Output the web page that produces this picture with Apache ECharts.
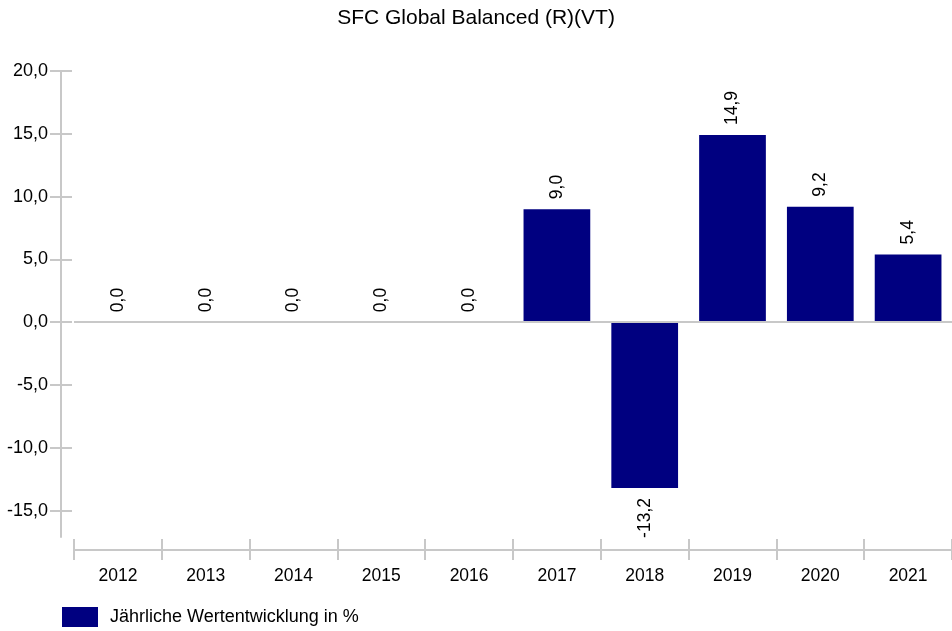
<!DOCTYPE html>
<html>
<head>
<meta charset="utf-8">
<script src="https://cdn.jsdelivr.net/npm/echarts@6/dist/echarts.min.js"></script>
<style>
  html, body { margin: 0; padding: 0; background: #fff; }
  #chart { width: 952px; height: 631px; }
</style>
</head>
<body>
<div id="chart"></div>
<script>
const years = ['2012', '2013', '2014', '2015', '2016', '2017', '2018', '2019', '2020', '2021'];
const returns = [0.0, 0.0, 0.0, 0.0, 0.0, 9.0, -13.2, 14.9, 9.2, 5.4];
const yTicks = [-15, -10, -5, 0, 5, 10, 15, 20];
const seriesName = 'Jährliche Wertentwicklung in %';

const FONT = 'Liberation Sans, Arial, sans-serif';
const GRAY = '#c8c8c8';
const fmt = v => v.toFixed(1).replace('.', ',');

const chart = echarts.init(document.getElementById('chart'));

const option = {
  animation: false,
  textStyle: { fontFamily: FONT },
  title: {
    text: 'SFC Global Balanced (R)(VT)',
    left: 'center',
    top: 3,
    textStyle: { fontFamily: FONT, fontSize: 21, fontWeight: 'normal', color: '#000' }
  },
  legend: {
    left: 57,
    top: 602,
    itemWidth: 36,
    itemHeight: 20,
    icon: 'rect',
    data: [seriesName],
    textStyle: { fontFamily: FONT, fontSize: 18, color: '#000', padding: [0, 0, 0, 7] }
  },
  grid: {
    left: 74,
    right: -5,
    top: 71,
    bottom: 94,
    containLabel: false
  },
  xAxis: [
    {
      // ticks + year labels
      type: 'category',
      data: years,
      position: 'bottom',
      offset: 2,
      axisLine: { show: false, onZero: false },
      axisTick: { show: true, length: 21, lineStyle: { color: GRAY, width: 2 } },
      axisLabel: { margin: 28, fontFamily: FONT, fontSize: 17.5, color: '#000' }
    },
    {
      // bottom axis line
      type: 'category',
      data: years,
      position: 'bottom',
      offset: 13,
      axisLine: { show: true, onZero: false, lineStyle: { color: GRAY, width: 2 } },
      axisTick: { show: false },
      axisLabel: { show: false }
    }
  ],
  yAxis: [
    {
      type: 'value',
      position: 'left',
      min: -17.1,
      max: 20,
      offset: 2,
      splitLine: { show: false },
      axisLine: { show: false, onZero: false },
      axisTick: { show: true, length: 22, customValues: yTicks, lineStyle: { color: GRAY, width: 2 } },
      axisLabel: {
        customValues: yTicks,
        margin: 24,
        fontFamily: FONT,
        fontSize: 18,
        color: '#000',
        formatter: v => fmt(v)
      }
    },
    {
      type: 'value',
      position: 'left',
      min: -17.1,
      max: 20,
      offset: 13,
      splitLine: { show: false },
      axisLine: { show: true, onZero: false, lineStyle: { color: GRAY, width: 2 } },
      axisTick: { show: false },
      axisLabel: { show: false }
    }
  ],
  series: [
    {
      name: seriesName,
      type: 'bar',
      xAxisIndex: 0,
      yAxisIndex: 0,
      barCategoryGap: '24%',
      itemStyle: { color: '#000080' },
      data: returns.map(v => ({
        value: v,
        label: v < 0
          ? { position: 'bottom', align: 'right', distance: 10 }
          : { position: 'top', align: 'left', distance: 10 }
      })),
      label: {
        show: true,
        rotate: 90,
        verticalAlign: 'middle',
        fontFamily: FONT,
        fontSize: 17.5,
        color: '#000',
        formatter: p => fmt(p.value)
      },
      markLine: {
        silent: true,
        symbol: 'none',
        label: { show: false },
        lineStyle: { color: GRAY, width: 2, type: 'solid' },
        data: [{ yAxis: 0 }]
      }
    }
  ]
};

chart.setOption(option);
</script>
</body>
</html>
